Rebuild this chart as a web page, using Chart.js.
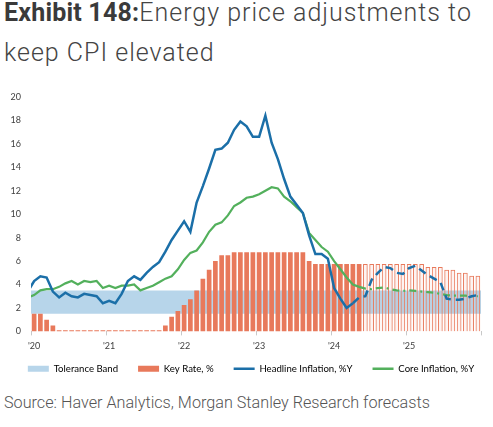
<!DOCTYPE html>
<html><head><meta charset="utf-8">
<script src="https://cdn.jsdelivr.net/npm/chart.js@4.4.1/dist/chart.umd.min.js"></script>
<style>
html,body{margin:0;padding:0;background:#fff;width:493px;height:427px;overflow:hidden;}
#title{position:absolute;left:4px;top:-6.6px;font-family:Roboto,sans-serif;font-size:25px;line-height:40px;color:#444;font-weight:300;white-space:nowrap;}
#title b{font-weight:700;color:#3a3a3a;letter-spacing:0.2px;}
#title span{letter-spacing:1.0px;}
#src{position:absolute;left:4px;top:395px;font-family:Roboto,sans-serif;font-weight:300;font-size:16.2px;line-height:16.2px;color:#555;white-space:nowrap;}
#c{position:absolute;left:0;top:80px;}
</style></head><body>
<div id="title"><b>Exhibit 148:</b><span>Energy price adjustments to<br>keep CPI elevated</span></div>
<canvas id="c" width="493" height="313"></canvas>
<div id="src">Source: Haver Analytics, Morgan Stanley Research forecasts</div>
<script>
// ---- data ----
const yearTicks = ["'20","'21","'22","'23","'24","'25"];
const months = [];
for (let y = 0; y < yearTicks.length; y++) for (let m = 1; m <= 12; m++) months.push((2020 + y) + '-' + String(m).padStart(2, '0'));

const keyRate = [
  1.5,1.5,1.0,0.5,0.1,0.1,0.1,0.1,0.1,0.1,0.1,0.1,
  0.1,0.1,0.1,0.1,0.1,0.1,0.1,0.1,0.1,0.5,1.25,1.75,
  2.25,2.75,3.5,4.5,5.25,6.0,6.5,6.5,6.75,6.75,6.75,6.75,
  6.75,6.75,6.75,6.75,6.75,6.75,6.75,6.75,6.0,5.75,5.75,5.75,
  5.75,5.75,5.75,5.75,5.75,5.75,5.75,5.75,5.75,5.75,5.75,5.75,
  5.75,5.75,5.75,5.5,5.5,5.5,5.25,5.25,5.0,5.0,4.75,4.75
];
const keyRateForecastFrom = 53; // first forecast month index (Jun 2024)

const toleranceBand = [1.5, 3.5];

// month index 0 = Jan 2020; -1 = Dec 2019
const headlineActualStart = -1;
const headlineActual = [
  3.4,
  4.3,4.7,4.6,3.4,2.9,3.3,3.0,2.9,3.2,3.1,3.0,2.4,
  2.6,2.4,3.2,4.3,4.7,4.4,5.0,5.5,5.9,6.8,7.8,8.6,
  9.4,8.5,11.0,12.4,13.9,15.5,15.6,16.1,17.2,17.9,17.5,16.6,
  16.6,18.4,16.1,14.7,13.0,11.5,10.8,10.1,8.2,6.6,6.6,6.2,
  3.7,2.8,2.0,2.4
];
const headlineForecastStart = 51;
const headlineForecast = [
  2.4,2.9,3.0,4.4,5.0,5.5,5.4,5.0,4.9,5.4,5.6,5.2,4.8,4.5,4.2,2.8,2.7,2.7,2.8,3.0,3.1
];
const coreActualStart = -1;
const coreActual = [
  2.9,
  3.1,3.5,3.6,3.6,3.8,4.1,4.3,4.0,4.3,4.2,4.3,3.7,
  3.9,3.7,3.9,3.9,4.0,3.5,3.7,3.9,4.2,4.5,4.7,5.3,
  6.1,6.7,6.9,7.6,8.5,9.1,9.3,9.9,10.7,11.0,11.4,11.5,
  11.7,12.0,12.3,12.2,11.5,11.1,10.6,10.1,8.4,7.8,7.2,6.8,
  6.0,5.3,4.6,4.0,3.8
];
const coreForecastStart = 52;
const coreForecast = [
  3.8,3.65,3.6,3.7,3.75,3.6,3.5,3.45,3.5,3.45,3.4,3.35,3.3,3.2,3.1,3.05,3.05,3.05,3.0,3.0
];

// ---- styles ----
const SALMON = '#e8795b';
const BAND = '#b7d5ea';
const BLUE = '#1b6fa8';
const GREEN = '#53b05c';
const FONT = 'Lato, "Open Sans", sans-serif';
const LEGEND_DX = 4.5, LEGEND_DY = -9.5;

const pts = (arr, start) => arr.map((v, i) => ({x: start + i, y: v}));
const keyRateActual = keyRate.map((v, i) => i < keyRateForecastFrom ? v : null);
const keyRateFcst = keyRate.map((v, i) => i >= keyRateForecastFrom ? v : null);

const legendNudge = {
  id: 'legendNudge',
  afterLayout(chart) {
    const l = chart.legend; if (!l) return;
    l.top += LEGEND_DY; l.bottom += LEGEND_DY; l.left += LEGEND_DX; l.right += LEGEND_DX;
  }
};

new Chart(document.getElementById('c'), {
  type: 'bar',
  plugins: [legendNudge],
  data: {
    labels: months,
    datasets: [
      {type: 'line', label: 'Tolerance Band', xAxisID: 'xl',
       data: [{x: -0.5, y: toleranceBand[1]}, {x: months.length - 0.5, y: toleranceBand[1]}],
       fill: {value: toleranceBand[0]}, backgroundColor: BAND, borderWidth: 0, pointRadius: 0, order: 10},
      {label: 'Key Rate, %', data: keyRateActual, backgroundColor: SALMON, borderWidth: 0,
       grouped: false, barPercentage: 0.75, categoryPercentage: 1, order: 5},
      {label: 'Key Rate fcst', data: keyRateFcst, backgroundColor: 'rgba(232,121,91,0.08)', borderColor: SALMON, borderWidth: 1,
       grouped: false, barPercentage: 0.75, categoryPercentage: 1, order: 5},
      {type: 'line', label: 'Headline Inflation, %Y', xAxisID: 'xl', data: pts(headlineActual, headlineActualStart),
       borderColor: BLUE, borderWidth: 2.5, pointRadius: 0, tension: 0, fill: false, order: 1},
      {type: 'line', label: 'Headline fcst', xAxisID: 'xl', data: pts(headlineForecast, headlineForecastStart),
       borderColor: BLUE, borderWidth: 2.5, borderDash: [8, 5], pointRadius: 0, tension: 0, fill: false, order: 1},
      {type: 'line', label: 'Core Inflation, %Y', xAxisID: 'xl', data: pts(coreActual, coreActualStart),
       borderColor: GREEN, borderWidth: 2.2, pointRadius: 0, tension: 0, fill: false, order: 2},
      {type: 'line', label: 'Core fcst', xAxisID: 'xl', data: pts(coreForecast, coreForecastStart),
       borderColor: GREEN, borderWidth: 2.2, borderDash: [7, 4, 2, 4], pointRadius: 0, tension: 0, fill: false, order: 2}
    ]
  },
  options: {
    responsive: false, animation: false, devicePixelRatio: 1,
    layout: {padding: {top: 17, right: 0, left: 0, bottom: 0}},
    plugins: {
      tooltip: {enabled: false},
      legend: {
        position: 'bottom',
        labels: {
          usePointStyle: true, pointStyleWidth: 21, boxHeight: 6, padding: 20,
          color: '#333', font: {family: FONT, size: 9.6},
          generateLabels: () => [
            {text: 'Tolerance Band', fillStyle: BAND, strokeStyle: BAND, lineWidth: 0, pointStyle: 'rect', datasetIndex: 0, hidden: false},
            {text: 'Key Rate, %', fillStyle: SALMON, strokeStyle: SALMON, lineWidth: 0, pointStyle: 'rect', datasetIndex: 1, hidden: false},
            {text: 'Headline Inflation, %Y', fillStyle: BLUE, strokeStyle: BLUE, lineWidth: 2.5, pointStyle: 'line', datasetIndex: 3, hidden: false},
            {text: 'Core Inflation, %Y', fillStyle: GREEN, strokeStyle: GREEN, lineWidth: 2.5, pointStyle: 'line', datasetIndex: 5, hidden: false}
          ]
        }
      }
    },
    scales: {
      x: {
        type: 'category', offset: true,
        border: {display: false},
        grid: {offset: true, drawOnChartArea: false, drawTicks: true, tickLength: 4,
               color: (ctx) => (ctx.type === 'scale' || (ctx.index % 12 === 0)) ? '#c8c8c8' : 'rgba(0,0,0,0)'},
        ticks: {autoSkip: false, maxRotation: 0, minRotation: 0, padding: 5, color: '#404040',
                font: {family: FONT, size: 9},
                callback: (v, i) => (i % 12 === 0) ? yearTicks[i / 12] : ''},
        afterFit: (s) => { s.height = 22; }
      },
      xl: {type: 'linear', display: false, offset: false, grid: {offset: false}, min: -0.5, max: months.length - 0.5},
      y: {
        min: 0, max: 20,
        border: {display: false},
        grid: {display: false, drawTicks: false},
        ticks: {stepSize: 2, padding: 10, color: '#404040', font: {family: FONT, size: 9}},
        afterFit: (s) => { s.width = 31; }
      },
      y2: {
        position: 'right', min: 0, max: 20,
        border: {display: false}, grid: {display: false, drawTicks: false},
        ticks: {display: false},
        afterFit: (s) => { s.width = 12; }
      }
    }
  }
});
</script>
</body></html>
